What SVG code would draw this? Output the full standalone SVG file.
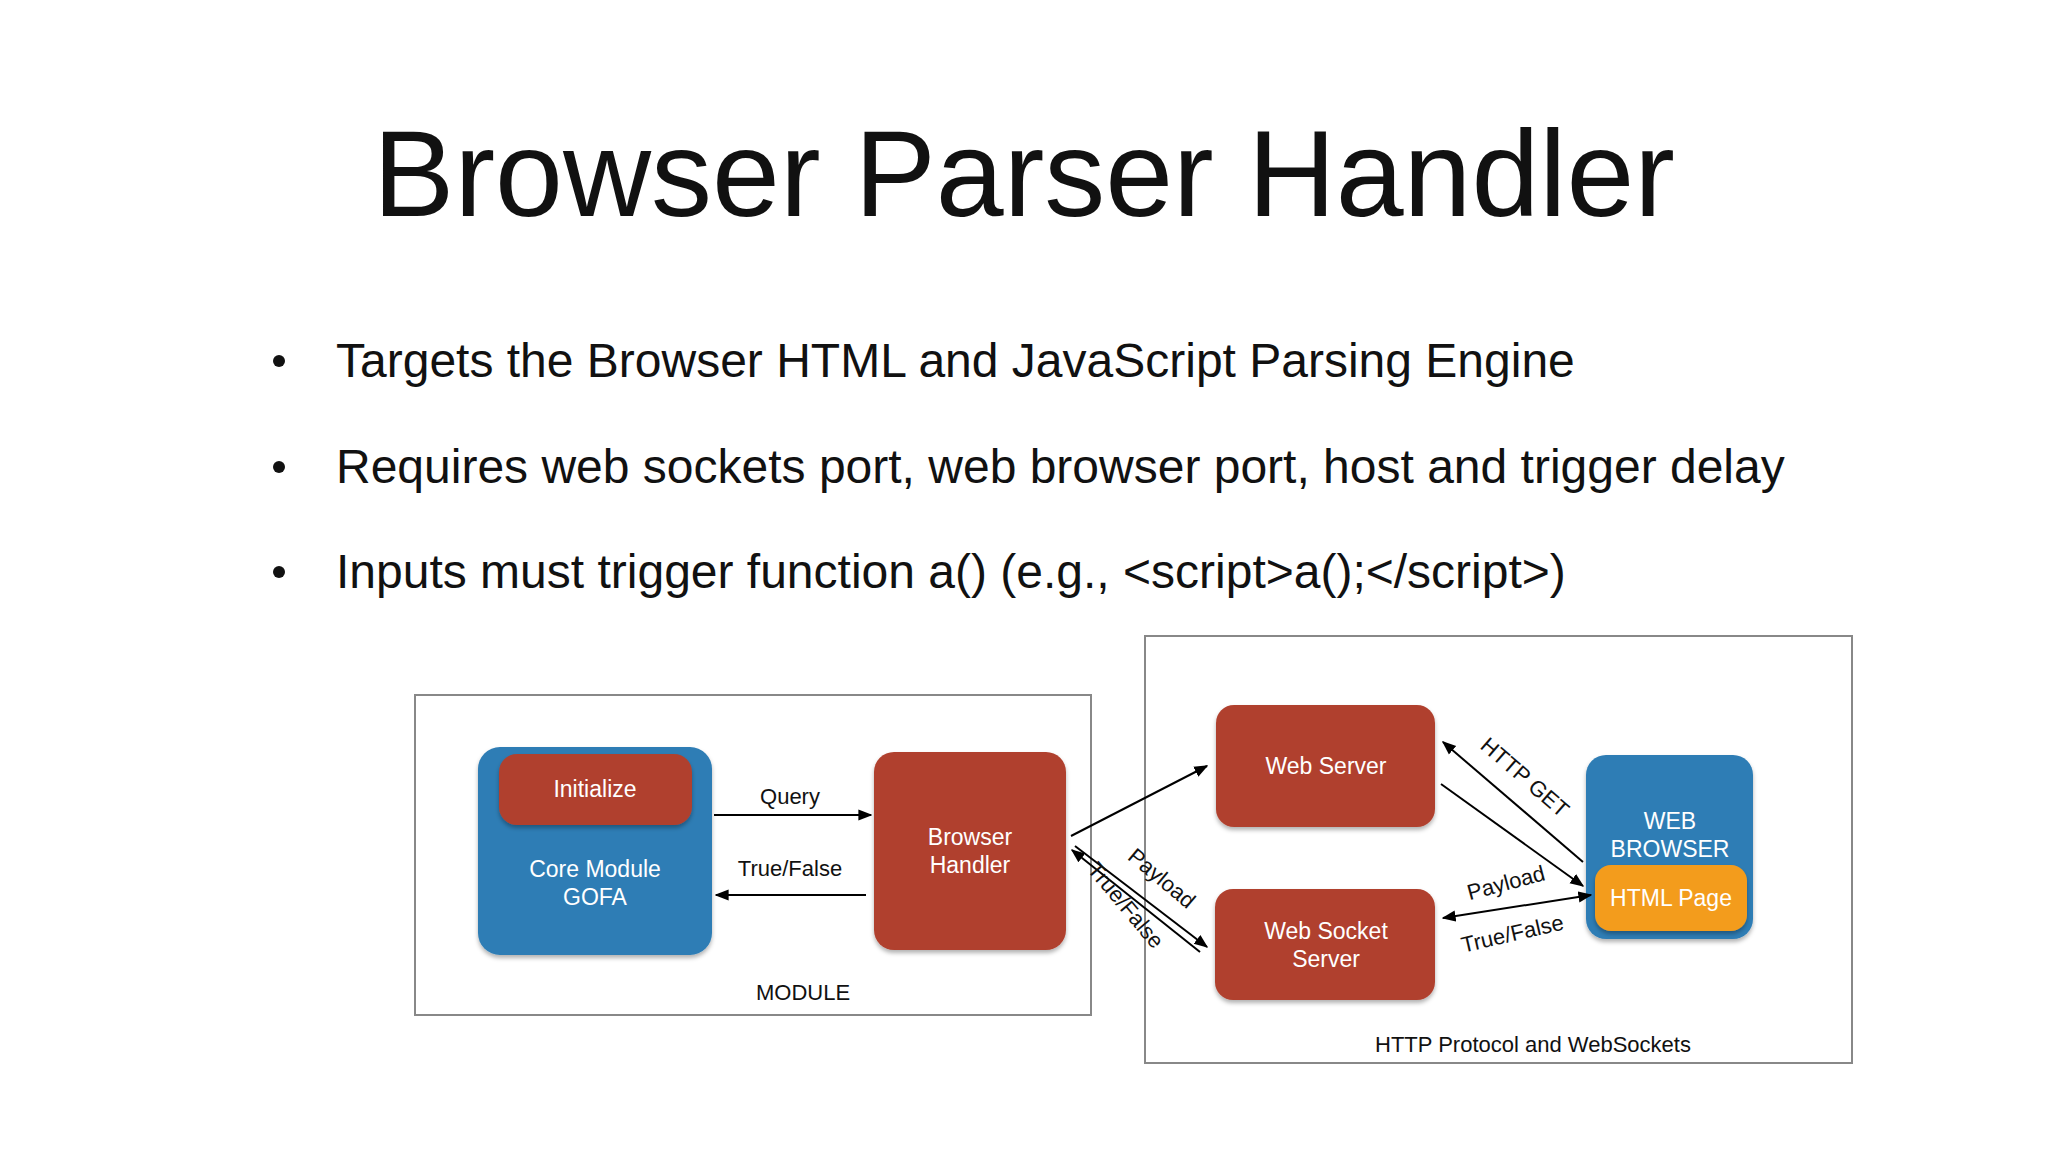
<svg xmlns="http://www.w3.org/2000/svg" width="2048" height="1152" viewBox="0 0 2048 1152">
<defs>
<marker id="ah" viewBox="0 0 10 10" refX="9" refY="5" markerWidth="7" markerHeight="7" orient="auto-start-reverse"><path d="M0,1 L10,5 L0,9 z" fill="#000"/></marker>
<filter id="sh" x="-10%" y="-10%" width="120%" height="130%"><feDropShadow dx="0" dy="3" stdDeviation="2" flood-opacity="0.3"/></filter>
</defs>
<style>
text{font-family:"Helvetica Neue","Liberation Sans",Arial,sans-serif}
.t{font-weight:300}
.w{fill:#fff;font-size:23px;text-anchor:middle}
.k{fill:#111;font-size:22px;text-anchor:middle}
.red{fill:#B0412E;filter:url(#sh)}
.blue{fill:#2E7DB5;filter:url(#sh)}
.frame{fill:none;stroke:#888;stroke-width:2}
.c{stroke:#000;stroke-width:2;fill:none;marker-end:url(#ah)}
</style>
<rect width="2048" height="1152" fill="#fff"/>
<text x="1024" y="216" font-size="122" text-anchor="middle" class="t" fill="#111">Browser Parser Handler</text>
<g font-size="48" fill="#111" class="t">
<circle cx="279" cy="361" r="6" fill="#111"/><text x="336" y="377">Targets the Browser HTML and JavaScript Parsing Engine</text>
<circle cx="279" cy="467" r="6" fill="#111"/><text x="336" y="483">Requires web sockets port, web browser port, host and trigger delay</text>
<circle cx="279" cy="572" r="6" fill="#111"/><text x="336" y="588">Inputs must trigger function a() (e.g., &lt;script&gt;a();&lt;/script&gt;)</text>
</g>
<g id="module"><rect class="frame" x="415" y="695" width="676" height="320"/><text class="k" x="803" y="1000">MODULE</text></g>
<g id="http"><rect class="frame" x="1145" y="636" width="707" height="427"/><text class="k" x="1533" y="1052">HTTP Protocol and WebSockets</text></g>
<g id="core"><rect class="blue" x="478" y="747" width="234" height="208" rx="22"/><text class="w" x="595" y="877">Core Module</text><text class="w" x="595" y="905">GOFA</text></g>
<g id="init"><rect class="red" x="499" y="754" width="193" height="71" rx="18"/><text class="w" x="595" y="797">Initialize</text></g>
<g id="bh"><rect class="red" x="874" y="752" width="192" height="198" rx="20"/><text class="w" x="970" y="845">Browser</text><text class="w" x="970" y="873">Handler</text></g>
<g id="ws"><rect class="red" x="1216" y="705" width="219" height="122" rx="18"/><text class="w" x="1326" y="774">Web Server</text></g>
<g id="wss"><rect class="red" x="1215" y="889" width="220" height="111" rx="18"/><text class="w" x="1326" y="939">Web Socket</text><text class="w" x="1326" y="967">Server</text></g>
<g id="wb"><rect class="blue" x="1586" y="755" width="167" height="184" rx="20"/><text class="w" x="1670" y="829">WEB</text><text class="w" x="1670" y="857">BROWSER</text></g>
<g id="html"><rect x="1595" y="865" width="152" height="66" rx="16" fill="#F39C1F" style="filter:url(#sh)"/><text class="w" x="1671" y="906">HTML Page</text></g>
<g id="connectors">
<line class="c" x1="714" y1="815" x2="871" y2="815"/>
<line class="c" x1="866" y1="895" x2="716" y2="895"/>
<line class="c" x1="1071" y1="836" x2="1207" y2="766"/>
<line class="c" x1="1075" y1="846" x2="1207" y2="947"/>
<line class="c" x1="1200" y1="952" x2="1072" y2="850"/>
<line class="c" x1="1583" y1="862" x2="1443" y2="742"/>
<line class="c" x1="1441" y1="784" x2="1583" y2="886"/>
<line x1="1443" y1="918" x2="1591" y2="895" stroke="#000" stroke-width="2" marker-start="url(#ah)" marker-end="url(#ah)"/>
</g>
<g id="labels">
<text class="k" x="790" y="804">Query</text>
<text class="k" x="790" y="876">True/False</text>
<text class="k" transform="translate(1520,783) rotate(41)">HTTP GET</text>
<text class="k" transform="translate(1508,890) rotate(-15)">Payload</text>
<text class="k" transform="translate(1514,941) rotate(-13)">True/False</text>
<text class="k" transform="translate(1157,884) rotate(40)">Payload</text>
<text class="k" transform="translate(1120,910) rotate(50)">True/False</text>
</g>
</svg>
